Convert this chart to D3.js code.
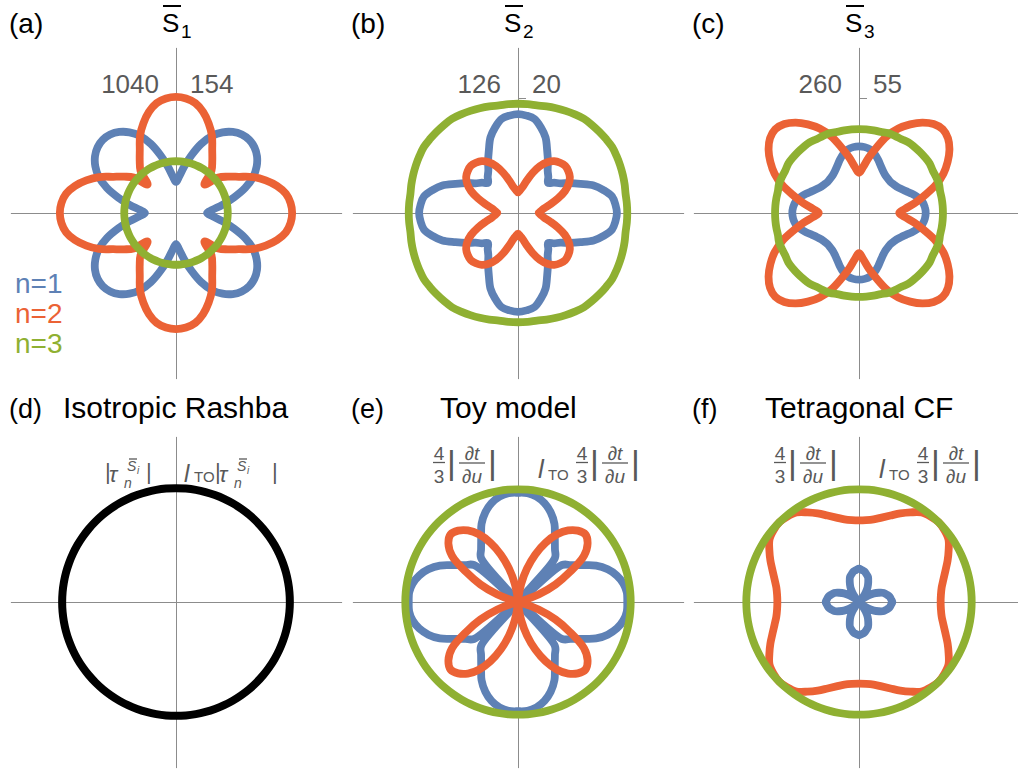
<!DOCTYPE html>
<html>
<head>
<meta charset="utf-8">
<script src="https://cdn.jsdelivr.net/npm/d3@7"></script>
<style>
body{margin:0;background:#fff;}
text{font-family:"Liberation Sans",Arial,sans-serif;}
</style>
</head>
<body>
<svg id="chart" width="1018" height="771"></svg>
<script>
// angles (deg) of one quadrant; every curve is mirrored about both axes
var angles = [0,5,10,15,20,25,30,35,40,45,50,55,60,65,70,75,80,85,90];

// radii, in units of the tick mark on the vertical axis
// (a) S1
var a_n1 = [0.27,0.32,0.41,0.52,0.64,0.74,0.81,0.86,0.89,0.90,0.89,0.86,0.81,0.74,0.64,0.52,0.41,0.32,0.27];
var a_n2 = [1.01,1.00,0.97,0.91,0.83,0.74,0.63,0.55,0.48,0.35,0.48,0.55,0.63,0.74,0.83,0.91,0.97,1.00,1.01];
var a_n3 = [0.45,0.45,0.45,0.45,0.45,0.45,0.45,0.45,0.45,0.45,0.45,0.45,0.45,0.45,0.45,0.45,0.45,0.45,0.45];
// (b) S2
var b_n1 = [0.86,0.85,0.83,0.77,0.70,0.60,0.52,0.45,0.41,0.37,0.41,0.45,0.52,0.60,0.70,0.77,0.83,0.85,0.86];
var b_n2 = [0.18,0.20,0.23,0.29,0.37,0.45,0.51,0.55,0.57,0.58,0.57,0.55,0.51,0.45,0.37,0.29,0.23,0.20,0.18];
var b_n3 = [0.95,0.95,0.95,0.96,0.97,0.98,0.99,1.00,1.00,1.00,1.00,1.00,0.99,0.98,0.97,0.96,0.95,0.95,0.95];
// (c) S3
var c_n1 = [0.58,0.575,0.56,0.53,0.49,0.45,0.42,0.40,0.39,0.385,0.39,0.40,0.42,0.45,0.49,0.53,0.56,0.575,0.58];
var c_n2 = [0.35,0.40,0.49,0.59,0.71,0.81,0.89,0.96,1.01,1.03,1.01,0.96,0.89,0.81,0.71,0.59,0.49,0.40,0.35];
var c_n3 = [0.73,0.73,0.73,0.73,0.74,0.74,0.74,0.75,0.75,0.75,0.75,0.75,0.74,0.74,0.74,0.73,0.73,0.73,0.73];
// (d) isotropic Rashba
var d_iso = [0.99,0.99,0.99,0.99,0.99,0.99,0.99,0.99,0.99,0.99,0.99,0.99,0.99,0.99,0.99,0.99,0.99,0.99,0.99];
// (e) toy model
var e_n1 = [0.95,0.95,0.93,0.89,0.83,0.75,0.64,0.56,0.50,0.00,0.50,0.56,0.64,0.75,0.83,0.89,0.93,0.95,0.95];
var e_n2 = [0.00,0.00,0.00,0.03,0.19,0.36,0.52,0.70,0.79,0.83,0.81,0.76,0.68,0.57,0.44,0.30,0.16,0.04,0.00];
var e_n3 = [0.98,0.98,0.98,0.98,0.98,0.98,0.98,0.98,0.98,0.98,0.98,0.98,0.98,0.98,0.98,0.98,0.98,0.98,0.98];
// (f) tetragonal CF
var f_n1 = [0.29,0.28,0.27,0.25,0.23,0.19,0.15,0.10,0.05,0.00,0.05,0.10,0.15,0.19,0.23,0.25,0.27,0.28,0.29];
var f_n2 = [0.71,0.715,0.73,0.76,0.80,0.85,0.90,0.95,0.97,0.98,0.97,0.95,0.90,0.85,0.80,0.76,0.73,0.715,0.71];
var f_n3 = [0.98,0.98,0.98,0.98,0.98,0.98,0.98,0.98,0.98,0.98,0.98,0.98,0.98,0.98,0.98,0.98,0.98,0.98,0.98];

var panelLetters = ["(a)","(b)","(c)","(d)","(e)","(f)"];
var sSubscripts = ["1","2","3"];
var bottomTitles = ["Isotropic Rashba","Toy model","Tetragonal CF"];
var leftScale = ["1040","126","260"];
var rightScale = ["154","20","55"];
var legendLabels = ["n=1","n=2","n=3"];

var blue = "#5E81B5", red = "#EB6235", green = "#8FB032";
var nColors = [blue, red, green];
var gray = "#595959";

var panels = [
  {col:0,row:0,curves:[a_n1,a_n2,a_n3]},
  {col:1,row:0,curves:[b_n1,b_n2,b_n3]},
  {col:2,row:0,curves:[c_n1,c_n2,c_n3]},
  {col:0,row:1,curves:[d_iso],colors:["#000"]},
  {col:1,row:1,curves:[e_n1,e_n2,e_n3]},
  {col:2,row:1,curves:[f_n1,f_n2,f_n3]}
];

var colX = [176, 518, 859];
var rowY = [213, 602];
var unit = 115;     // px per radius unit
var axisExt = 1.44; // half length of the axes in radius units

var svg = d3.select("#chart");
var rScale = d3.scaleLinear().domain([0,1]).range([0,unit]);
var xAx = d3.scaleLinear().domain([-axisExt,axisExt]).range([-unit*axisExt,unit*axisExt]);
var yAx = d3.scaleLinear().domain([-axisExt,axisExt]).range([unit*axisExt,-unit*axisExt]);

function fullCurve(q){
  var pts = [], i;
  for(i=0;i<angles.length;i++) pts.push({a:angles[i], r:q[i]});
  for(i=angles.length-2;i>=0;i--) pts.push({a:180-angles[i], r:q[i]});
  for(i=1;i<angles.length;i++) pts.push({a:180+angles[i], r:q[i]});
  for(i=angles.length-2;i>0;i--) pts.push({a:360-angles[i], r:q[i]});
  return pts;
}

var radial = d3.lineRadial()
  .angle(function(d){ return (90-d.a)*Math.PI/180; })
  .radius(function(d){ return rScale(d.r); })
  .curve(d3.curveCatmullRomClosed.alpha(0.5));

function txt(g,x,y,s,size,opt){
  opt = opt || {};
  return g.append("text")
    .attr("x",x).attr("y",y)
    .attr("font-size",size)
    .attr("fill",opt.fill || gray)
    .attr("font-style",opt.it ? "italic" : null)
    .attr("text-anchor",opt.anchor || "start")
    .text(s);
}
function bar(g,x1,x2,y,w,c){
  g.append("line").attr("x1",x1).attr("x2",x2).attr("y1",y).attr("y2",y)
    .attr("stroke",c || gray).attr("stroke-width",w || 1.3);
}

panels.forEach(function(p,i){
  var cx = colX[p.col], cy = rowY[p.row];
  var g = svg.append("g").attr("transform","translate("+cx+","+cy+")");

  // axes
  var xa = g.append("g").call(d3.axisBottom(xAx).tickValues([]).tickSizeOuter(0));
  var ya = g.append("g").call(d3.axisRight(yAx).tickValues([1]).tickSize(8).tickSizeOuter(0).tickFormat(""));
  [xa,ya].forEach(function(a){
    a.selectAll("path,line").attr("stroke","#8c8c8c").attr("stroke-width",1);
  });

  // curves
  p.curves.forEach(function(q,k){
    g.append("path")
      .datum(fullCurve(q))
      .attr("d",radial)
      .attr("fill","none")
      .attr("stroke",p.colors ? p.colors[k] : nColors[k])
      .attr("stroke-width",p.colors ? 8 : 7.8)
      .attr("stroke-linejoin","round");
  });

  // panel letter
  txt(svg, cx-167, p.row==0 ? 33 : 418, panelLetters[i], p.row==0 ? 28 : 27, {fill:"#000"});

  if(p.row==0){
    // S-bar title
    txt(svg, cx-14, 32, "S", 26, {fill:"#000"});
    bar(svg, cx-13, cx+5, 6, 2, "#000");
    txt(svg, cx+5, 38, sSubscripts[p.col], 19, {fill:"#000"});
    // scale numbers
    txt(g, -17, -120, leftScale[p.col], 26, {anchor:"end"});
    txt(g, 14, -120, rightScale[p.col], 26);
  }
});

// legend in (a)
legendLabels.forEach(function(s,k){
  txt(svg, 15, 293+k*30, s, 28, {fill:nColors[k]});
});

// bottom row titles
var titleOff = [-113,-78,-94];
bottomTitles.forEach(function(s,k){
  txt(svg, colX[k]+titleOff[k], 418, s, 30, {fill:"#000"});
});

// (d) labels |tau_n^{S_i}| and l_TO |tau_n^{S_i}|
(function(){
  var g = svg.append("g").attr("transform","translate("+colX[0]+","+rowY[1]+")");
  txt(g, 8, -120, "l", 24, {it:true});
  txt(g, 18, -120, "TO", 15);
  [[-71,41],[39,57]].forEach(function(o){
    var x0 = o[0];
    txt(g, x0, -123, "|", 22);
    txt(g, x0+4, -120, "τ", 22, {it:true});
    txt(g, x0+19, -114, "n", 14, {it:true});
    txt(g, x0+22, -131, "S", 14, {it:true});
    bar(g, x0+24, x0+32, -143, 1.3);
    txt(g, x0+32, -128, "i", 10, {it:true});
    txt(g, x0+o[1], -123, "|", 22);
  });
})();

// (e),(f) labels 4/3|dt/du| and l_TO 4/3|dt/du|
[1,2].forEach(function(c){
  var g = svg.append("g").attr("transform","translate("+colX[c]+","+rowY[1]+")");
  txt(g, 20, -124, "l", 26, {it:true});
  txt(g, 30, -122, "TO", 15);
  [-79,64].forEach(function(fx){
    txt(g, fx, -142, "4", 19, {anchor:"middle"});
    bar(g, fx-6, fx+6, -139.5);
    txt(g, fx, -119, "3", 19, {anchor:"middle"});
    txt(g, fx+8, -128, "|", 34);
    txt(g, fx+33, -142, "∂t", 19, {it:true, anchor:"middle"});
    bar(g, fx+20, fx+46, -139);
    txt(g, fx+33, -119, "∂u", 19, {it:true, anchor:"middle"});
    txt(g, fx+49, -128, "|", 34);
  });
});
</script>
</body>
</html>
